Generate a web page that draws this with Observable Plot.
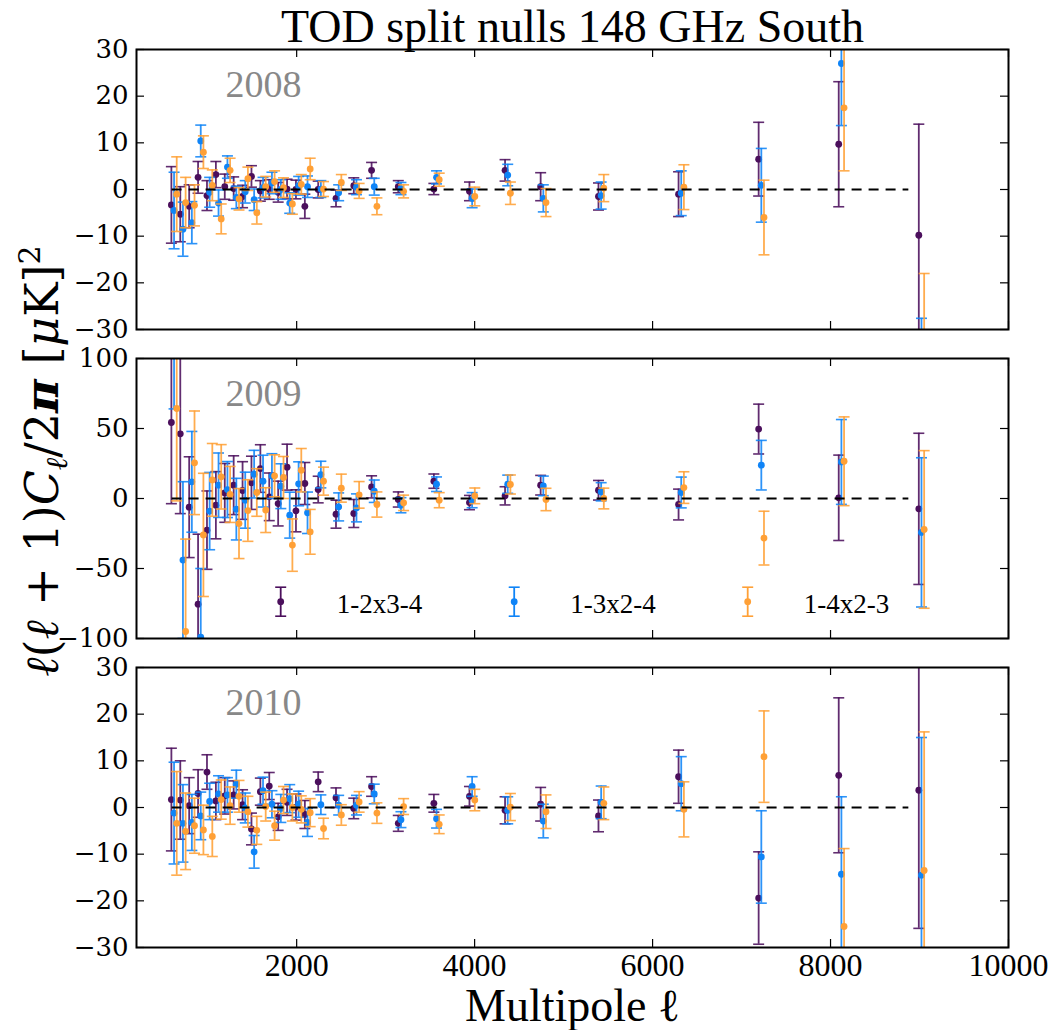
<!DOCTYPE html>
<html><head><meta charset="utf-8">
<script src="https://cdn.jsdelivr.net/npm/d3@7"></script>
<script src="https://cdn.jsdelivr.net/npm/@observablehq/plot@0.6"></script>
<style>
body{margin:0;background:#fff;}
#wrap{position:relative;width:1052px;height:1030px;overflow:hidden;background:#fff;}
#wrap > svg{position:absolute;left:0;}
</style></head><body><div id="wrap"></div>
<script>
// ---- data ----
const bins = [600,700,800,900,1000,1100,1200,1300,1400,1500,1600,1700,1800,1900,2000,2100,2250,2450,2650,2850,3150,3550,3950,4350,4750,5400,6300,7200,8100,9000];
const seriesNames = ["1-2x3-4", "1-3x2-4", "1-4x2-3"];
const seriesColors = ["#4b0f5c", "#0f84f7", "#ffa036"];
const seriesOffsets = [-8, 22, 52];
const years = ["2008", "2009", "2010"];
const xTicks = [2000, 4000, 6000, 8000, 10000];
const yTicks30 = [-30, -20, -10, 0, 10, 20, 30];
const yTicks100 = [-100, -50, 0, 50, 100];
const zeroLine = [600, 8880];
const title = "TOD split nulls 148 GHz South";
const xLabel = "Multipole ℓ";

const v2008_12x34 = [-3.3,-5.3,-3.6,2.6,-1.3,3.2,0.6,0.2,-1.5,2.8,-0.3,0.0,-0.6,0.1,0.0,-3.6,0.0,-1.9,0.8,4.1,0.6,0.1,-0.4,4.1,0.6,-1.5,-1.0,6.5,9.7,-9.8];
const e2008_12x34 = [8.2,5.9,4.6,3.4,3.2,2.8,2.7,2.5,2.4,2.3,2.2,2.1,2.1,2.1,2.0,2.6,1.8,1.8,1.7,1.7,1.3,1.2,2.0,2.3,3.0,2.9,4.8,7.9,13.4,23.8];
const v2008_13x24 = [-4.5,-8.5,-7.1,10.4,-0.6,-2.9,4.8,-1.7,-0.5,-2.2,0.4,1.4,0.0,-2.9,0.8,0.6,0.1,-0.7,0.5,0.6,0.2,2.6,-1.9,3.1,-1.9,-1.3,-0.8,0.9,27.0,-51.2];
const e2008_13x24 = [8.2,5.8,4.5,3.4,3.2,2.8,2.4,2.4,2.4,2.3,2.2,2.3,2.1,2.2,2.0,2.3,1.8,1.7,1.6,1.8,1.3,1.4,2.0,2.3,2.9,2.9,4.8,7.9,13.3,23.6];
const v2008_14x23 = [-1.0,-2.8,-3.4,8.0,0.9,-6.3,4.1,-2.0,2.3,-5.0,0.6,1.7,0.4,-3.1,1.1,4.4,0.1,1.5,-0.3,-3.6,-0.4,2.1,-1.5,-0.8,-2.8,0.3,0.5,-6.0,17.5,-42.0];
const e2008_14x23 = [8.0,5.4,4.4,3.5,3.3,3.2,2.6,2.4,2.5,2.4,2.2,2.3,2.1,2.2,2.1,2.3,1.6,1.7,1.6,1.8,1.4,1.4,2.0,2.4,3.0,2.9,4.8,8.0,13.5,24.0];

const v2009_12x34 = [54.3,46.2,-6.2,-75.5,-22.6,-4.8,4.0,9.5,5.7,11.2,21.4,1.2,-3.6,22.4,-8.8,10.7,6.4,-11.2,-10.7,8.3,-0.7,12.4,-2.9,1.9,9.5,5.9,-4.3,49.6,0.5,-7.4];
const e2009_12x34 = [58,57,36,50,28,24,21,21,20.6,19,17,17,16,16.4,15,15,9.5,10,10,7.9,5.4,5.1,5.1,6.5,7,7,11,17.8,30.5,54];
const v2009_13x24 = [121,-44,11.9,-99,-9,9.5,6.4,-7.6,-1.2,17.4,12.4,16,8.8,-11.9,10.5,-10.2,17.1,-6,-6.7,5.2,-4.8,10.2,-1.2,10.2,9.0,4.8,4.3,23.8,26.1,-24.2];
const e2009_13x24 = [57,56,36,49,27.6,23,20,22,20,17,18.5,16,16,16.4,15.7,14.8,9.5,10,10,8,5.4,5.2,5.4,6.5,7,6.5,11,17.7,30.3,53.3];
const v2009_14x23 = [64.3,-95,25.5,-26,13.3,15.5,2.9,-17.9,-8.6,4.3,-8.3,16.2,15,-33.3,20.2,-23.8,12.4,7.4,2.6,-4.3,-3.1,-1.2,1.9,10,-0.7,0,7.8,-28.3,26.6,-22.1];
const e2009_14x23 = [66,66,37,44,26,23,20,25,22,17,16,15,15,18.7,15.5,16,10,10,9.5,9,5.5,5.4,5.6,6.8,8,7.4,11.3,19.2,31.7,56.3];

const v2010_12x34 = [1.7,1.6,0.4,3.0,7.6,1.4,2.5,2.7,0.6,-4.6,3.4,4.6,-2.0,1.1,0.1,-1.5,5.5,2.1,-0.2,4.5,-3.4,0.9,2.4,-0.6,0.7,-1.8,6.6,-19.4,6.9,3.7];
const e2010_12x34 = [11,8.4,6,5.1,3.7,4,3.9,3,3.2,3.4,2.9,2.9,2.9,2.8,2.8,3,2.1,2.1,2.2,2.1,1.7,1.9,2.1,2.9,3.6,3.4,5.7,9.9,16.6,29.6];
const v2010_13x24 = [-1.2,-3.4,-3.2,-1.8,1.3,2.9,2.7,5.0,-0.1,-9.5,3.6,0.7,-0.2,1.9,0.7,-3.2,0.6,0.5,0.5,2.9,-2.6,-2.4,4.5,-0.6,-2.9,1.1,5.1,-10.6,-14.3,-14.5];
const e2010_13x24 = [10.9,8.3,6,5.1,3.9,3.9,3.7,3,3.2,3.5,2.9,2.9,3,3,2.8,3,2.1,2.1,2.1,2.1,1.7,2.0,2.1,2.9,3.6,3.5,5.8,9.9,16.6,29.5];
const v2010_14x23 = [-3.4,-5.1,-3.9,-4.8,-6.2,1.7,0.4,2.4,-0.9,-4.9,0.2,-3.9,1.6,0.0,-0.4,-1.1,-4.5,-1.6,1.2,-1.2,0.2,-3.6,1.6,0.1,-0.9,0.9,-0.4,10.9,-25.5,-13.5];
const e2010_14x23 = [11.1,8.2,5.9,5.3,4.3,4.2,4,3.4,3.3,3,3.1,3.1,2.9,2.9,2.9,3,2.2,2.2,2.2,2.2,1.7,2.0,2.3,2.9,3.6,3.5,5.9,9.8,16.7,29.7];

// ---- layout ----
const W = 1052, ML = 136, MR = 44, FH = 280, FW = W - ML - MR, TL = 8;
const serif = "Liberation Serif, Times New Roman, serif";
const mathSerif = "DejaVu Serif, serif";
const minusFmt = d => (d < 0 ? "\u2212" + Math.abs(d) : String(d));
const capHalf = 5.5;
const capSymbol = {draw(ctx) { ctx.moveTo(-capHalf, 0); ctx.lineTo(capHalf, 0); }};

function rows(vals, errs, s) {
  return vals.map((v, i) => ({ell: bins[i] + seriesOffsets[s], v, e: errs[i], s}));
}

function panel({year, series, yDomain, yTicks, top, mt, mb, showX, legend}) {
  const H = mt + FH + mb;
  const marks = [];
  series.forEach(([vals, errs], s) => {
    const data = rows(vals, errs, s);
    const c = seriesColors[s];
    marks.push(
      Plot.ruleX(data, {x: "ell", y1: d => d.v - d.e, y2: d => d.v + d.e, stroke: c, strokeWidth: 1.8, strokeOpacity: 0.88, clip: true}),
      Plot.dot(data, {x: "ell", y: d => d.v - d.e, symbol: capSymbol, fill: "none", stroke: c, strokeWidth: 1.6, strokeOpacity: 0.88, clip: true}),
      Plot.dot(data, {x: "ell", y: d => d.v + d.e, symbol: capSymbol, fill: "none", stroke: c, strokeWidth: 1.6, strokeOpacity: 0.88, clip: true}),
      Plot.dot(data, {x: "ell", y: "v", r: 3.4, fill: c, stroke: "none", clip: true})
    );
  });
  marks.push(
    Plot.ruleY([0], {x1: () => zeroLine[0], x2: () => zeroLine[1], stroke: "black", strokeWidth: 1.8, strokeDasharray: "10,7"}),
    Plot.tickX(xTicks, {x: d => d, insetTop: FH - TL, stroke: "black", strokeWidth: 1.2}),
    Plot.tickX(xTicks, {x: d => d, insetBottom: FH - TL, stroke: "black", strokeWidth: 1.2}),
    Plot.tickY(yTicks, {y: d => d, insetRight: FW - TL, stroke: "black", strokeWidth: 1.2}),
    Plot.tickY(yTicks, {y: d => d, insetLeft: FW - TL, stroke: "black", strokeWidth: 1.2}),
    Plot.frame({stroke: "black", strokeWidth: 2}),
    Plot.axisY(yTicks, {anchor: "left", label: null, tickSize: 0, tickPadding: 8, fontSize: 26, fontFamily: mathSerif, tickFormat: minusFmt, fill: "black"}),
    Plot.text([year], {frameAnchor: "top-left", dx: 89, dy: 21, lineAnchor: "top", textAnchor: "start", fill: "#888888", fontSize: 38, fontFamily: serif})
  );
  if (showX) {
    marks.push(
      Plot.axisX(xTicks, {anchor: "bottom", label: null, tickSize: 0, tickPadding: 6, fontSize: 32, fontFamily: serif, tickFormat: d => String(d), fill: "black"}),
      Plot.text([xLabel], {frameAnchor: "bottom", dy: 59, lineAnchor: "middle", fontSize: 46, fontFamily: serif, fill: "black"})
    );
  }
  if (top === 0) {
    marks.push(Plot.text([title], {frameAnchor: "top", dy: -8, lineAnchor: "bottom", fontSize: 46, fontFamily: serif, fill: "black"}));
  }
  const svg = Plot.plot({
    width: W, height: H,
    marginLeft: ML, marginRight: MR, marginTop: mt, marginBottom: mb,
    style: {background: "none", overflow: "visible"},
    x: {domain: [200, 10000], axis: null, label: null},
    y: {domain: yDomain, axis: null, label: null},
    marks
  });
  svg.style.top = top + "px";
  if (legend) {
    const g = d3.select(svg).append("g").attr("text-anchor", "start");
    seriesNames.forEach((name, i) => {
      const cx = ML + 144.7 + i * 233.5, cy = mt + 243.7, c = seriesColors[i];
      g.append("line").attr("x1", cx).attr("x2", cx).attr("y1", cy - 14.5).attr("y2", cy + 14.5).attr("stroke", c).attr("stroke-width", 1.8);
      [cy - 14.5, cy + 14.5].forEach(yy => g.append("line").attr("x1", cx - capHalf).attr("x2", cx + capHalf).attr("y1", yy).attr("y2", yy).attr("stroke", c).attr("stroke-width", 1.6));
      g.append("circle").attr("cx", cx).attr("cy", cy).attr("r", 3.4).attr("fill", c);
      g.append("text").attr("x", cx + 56).attr("y", cy + 11).attr("text-anchor", "start").attr("font-family", serif).attr("font-size", 27).attr("fill", "black").text(name);
    });
  }
  return svg;
}

const wrap = document.getElementById("wrap");
wrap.appendChild(panel({year: years[0], series: [[v2008_12x34, e2008_12x34], [v2008_13x24, e2008_13x24], [v2008_14x23, e2008_14x23]], yDomain: [-30, 30], yTicks: yTicks30, top: 0, mt: 49, mb: 14}));
wrap.appendChild(panel({year: years[1], series: [[v2009_12x34, e2009_12x34], [v2009_13x24, e2009_13x24], [v2009_14x23, e2009_14x23]], yDomain: [-100, 100], yTicks: yTicks100, top: 343, mt: 15, mb: 14, legend: true}));
wrap.appendChild(panel({year: years[2], series: [[v2010_12x34, e2010_12x34], [v2010_13x24, e2010_13x24], [v2010_14x23, e2010_14x23]], yDomain: [-30, 30], yTicks: yTicks30, top: 652, mt: 15, mb: 83, showX: true}));

// y-axis label spanning all panels
const lab = d3.select(wrap).append("svg").attr("width", 130).attr("height", 1030)
  .style("position", "absolute").style("left", "0px").style("top", "0px").style("pointer-events", "none");
const t = lab.append("text").attr("transform", "translate(58,461) rotate(-90)")
  .attr("text-anchor", "middle").attr("font-family", mathSerif).attr("font-size", 46).attr("fill", "black");
t.append("tspan").attr("font-style", "italic").text("ℓ");
t.append("tspan").text("(");
t.append("tspan").attr("font-style", "italic").text("ℓ");
t.append("tspan").text(" + 1)");
t.append("tspan").attr("font-style", "italic").text("C");
t.append("tspan").attr("font-style", "italic").attr("font-size", 30).attr("dy", 9).text("ℓ");
t.append("tspan").attr("dy", -9).text("/2");
t.append("tspan").attr("font-style", "italic").attr("font-weight", "bold").text("π");
t.append("tspan").text(" [");
t.append("tspan").attr("font-style", "italic").text("μ");
t.append("tspan").text("K]");
t.append("tspan").attr("font-size", 30).attr("dy", -18).text("2");
</script></body></html>
